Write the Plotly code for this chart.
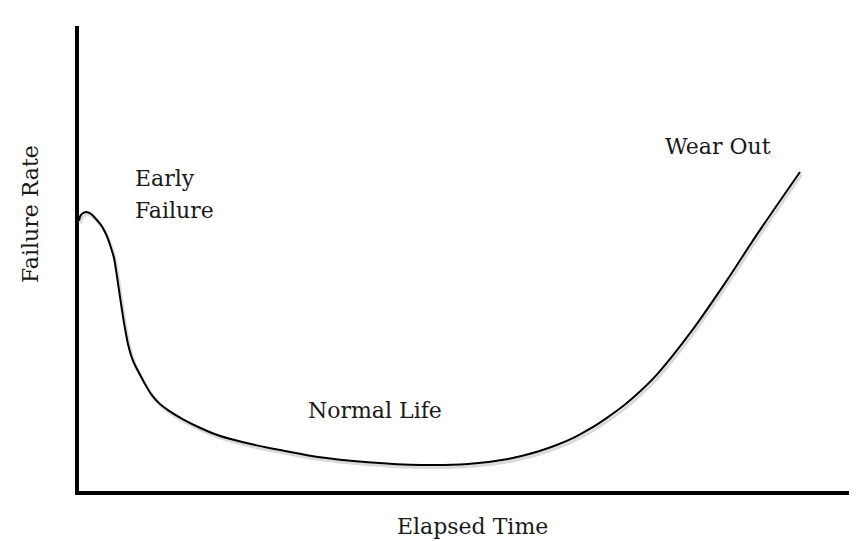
import plotly.graph_objects as go

# Bathtub curve: elapsed time (0-100 units) vs failure rate (0-100 units)
elapsed_time = [0.0, 0.25, 0.89, 1.53, 2.16, 2.80, 3.31, 3.69, 4.07, 4.45, 4.71, 4.96,
                5.22, 5.47, 5.73, 5.98, 6.23, 6.62, 7.00, 7.51, 8.27, 9.16, 10.18,
                11.32, 13.36, 15.52, 17.68, 21.88, 26.21, 30.41, 36.77, 43.51, 49.49,
                54.58, 58.40, 60.94, 63.10, 65.14, 67.30, 69.47, 71.50, 73.66, 77.86,
                82.19, 86.39, 91.73]
failure_rate = [58.1, 59.4, 60.0, 59.6, 58.5, 57.2, 55.7, 54.2, 52.3, 50.1, 47.5, 44.7,
                41.7, 38.9, 36.1, 33.8, 31.6, 29.2, 27.5, 25.8, 23.4, 20.9, 18.9,
                17.4, 15.3, 13.5, 12.0, 10.1, 8.6, 7.3, 6.2, 5.6, 5.8,
                6.9, 8.5, 10.0, 11.6, 13.5, 15.9, 18.6, 21.6, 25.3, 34.2,
                44.7, 55.5, 68.6]

phase_labels = ["Early", "Failure", "Normal Life", "Wear Out"]
x_title = "Elapsed Time"
y_title = "Failure Rate"

FONT = "DejaVu Serif"
fig = go.Figure()
# soft drop shadow (as in the original drawing), then the curve itself
fig.add_trace(go.Scatter(x=[t + 0.2 for t in elapsed_time],
                         y=[r - 0.55 for r in failure_rate], mode="lines",
                         line=dict(color="#dadada", width=3, shape="spline", smoothing=0.9),
                         hoverinfo="skip", showlegend=False))
fig.add_trace(go.Scatter(x=elapsed_time, y=failure_rate, mode="lines",
                         line=dict(color="black", width=2, shape="spline", smoothing=0.9),
                         hoverinfo="skip", showlegend=False))

ann_font = dict(family=FONT, size=22, color="#1a1a1a")
annotations = [
    dict(x=6.87, y=67.3, text=phase_labels[0], xanchor="left", yanchor="middle",
         xref="x", yref="y"),
    dict(x=6.87, y=60.4, text=phase_labels[1], xanchor="left", yanchor="middle",
         xref="x", yref="y"),
    dict(x=37.66, y=17.4, text=phase_labels[2], xanchor="center", yanchor="middle",
         xref="x", yref="y"),
    dict(x=81.3, y=74.0, text=phase_labels[3], xanchor="center", yanchor="middle",
         xref="x", yref="y"),
    dict(x=0.501, y=-0.077, text=x_title, xanchor="center", yanchor="middle",
         xref="paper", yref="paper"),
    dict(x=-0.061, y=0.596, text=y_title, xanchor="center", yanchor="middle",
         xref="paper", yref="paper", textangle=-90),
]
for a in annotations:
    a.update(showarrow=False, font=ann_font)

fig.update_layout(
    width=857, height=541,
    margin=dict(l=71, r=0, t=18, b=58),
    paper_bgcolor="white", plot_bgcolor="white",
    annotations=annotations,
    xaxis=dict(range=[0, 100], showline=True, linewidth=4, linecolor="black",
               showgrid=False, zeroline=False, showticklabels=False, ticks=""),
    yaxis=dict(range=[0, 100], showline=True, linewidth=4, linecolor="black",
               showgrid=False, zeroline=False, showticklabels=False, ticks=""),
)
fig.write_html("out.html")
